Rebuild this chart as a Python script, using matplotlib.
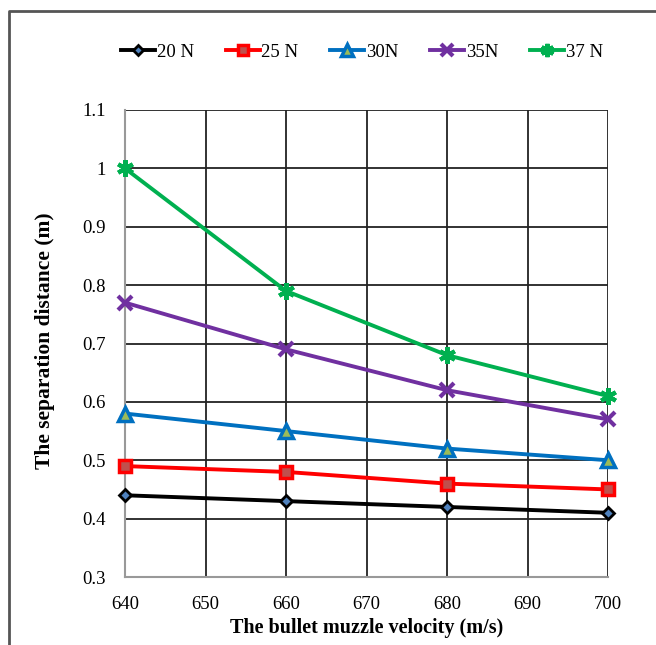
import matplotlib
matplotlib.use("Agg")
import matplotlib.pyplot as plt
from matplotlib.lines import Line2D

velocity = [640, 660, 680, 700]
s20 = [0.44, 0.43, 0.42, 0.41]
s25 = [0.49, 0.48, 0.46, 0.45]
s30 = [0.58, 0.55, 0.52, 0.50]
s35 = [0.77, 0.69, 0.62, 0.57]
s37 = [1.00, 0.79, 0.68, 0.61]
labels = ["20 N", "25 N", "30N", "35N", "37 N"]
xticks = [640, 650, 660, 670, 680, 690, 700]
yticks = [0.3, 0.4, 0.5, 0.6, 0.7, 0.8, 0.9, 1.0, 1.1]
ytick_labels = ["0.3", "0.4", "0.5", "0.6", "0.7", "0.8", "0.9", "1", "1.1"]

plt.rcParams['font.family'] = ['Liberation Serif', 'DejaVu Serif']

fig = plt.figure(figsize=(6.56, 6.45), dpi=100)
ax = fig.add_axes([125/656, 1-577/645, (608-125)/656, (577-110)/645])

styles = [
    dict(color="black", marker="D", mfc="#4F81BD", mec="black", ms=6, mew=2),
    dict(color="#FF0000", marker="s", mfc="#C0504D", mec="#FF0000", ms=9, mew=2.5),
    dict(color="#0070C0", marker="^", mfc="#9BBB59", mec="#0070C0", ms=10, mew=2.5),
    dict(color="#7030A0", marker="x", mfc="#7030A0", mec="#7030A0", ms=10, mew=3),
    dict(color="#00B050", marker=(6, 2, 0), mfc="#00B050", mec="#00B050", ms=12, mew=3),
]
series = [s20, s25, s30, s35, s37]
for s, lab, st in zip(series, labels, styles):
    ax.plot(velocity, s, lw=2.8, label=lab, zorder=3, clip_on=False, **st)

ax.set_xlim(640, 700)
ax.set_ylim(0.3, 1.1)
ax.set_xticks(xticks)
ax.set_yticks(yticks)
ax.set_yticklabels(ytick_labels)
ax.grid(True, color="#222222", lw=1.3)
ax.tick_params(length=0, labelsize=13.5)
ax.tick_params(axis='x', pad=14)
ax.tick_params(axis='y', pad=14)
for sp in ["top", "right"]:
    ax.spines[sp].set_visible(False)
for sp in ["left", "bottom"]:
    ax.spines[sp].set_color("#999999")
    ax.spines[sp].set_linewidth(1.5)

ax.set_xlabel("The bullet muzzle velocity (m/s)", fontsize=14.5, fontweight="bold")
ax.set_ylabel("The separation distance (m)", fontsize=15.5, fontweight="bold")
ax.xaxis.set_label_coords((367-125)/483, (577-628)/467)
ax.yaxis.set_label_coords((45-125)/483, (577-341)/467)
ax.xaxis.label.set_va("center")
ax.yaxis.label.set_va("center")

handles, labs = ax.get_legend_handles_labels()
fig.legend(handles, labs, loc="center", bbox_to_anchor=(362/656, 1-52/645), ncol=5,
           frameon=False, fontsize=13.5, handlelength=1.8, handletextpad=0.1,
           columnspacing=1.7, markerscale=0.8)

fig.add_artist(Line2D([9/656, 9/656, 1.0], [0.0, 1-11/645, 1-11/645],
                      transform=fig.transFigure, color="#555555", lw=2))

fig.savefig("out.png", dpi=100)
